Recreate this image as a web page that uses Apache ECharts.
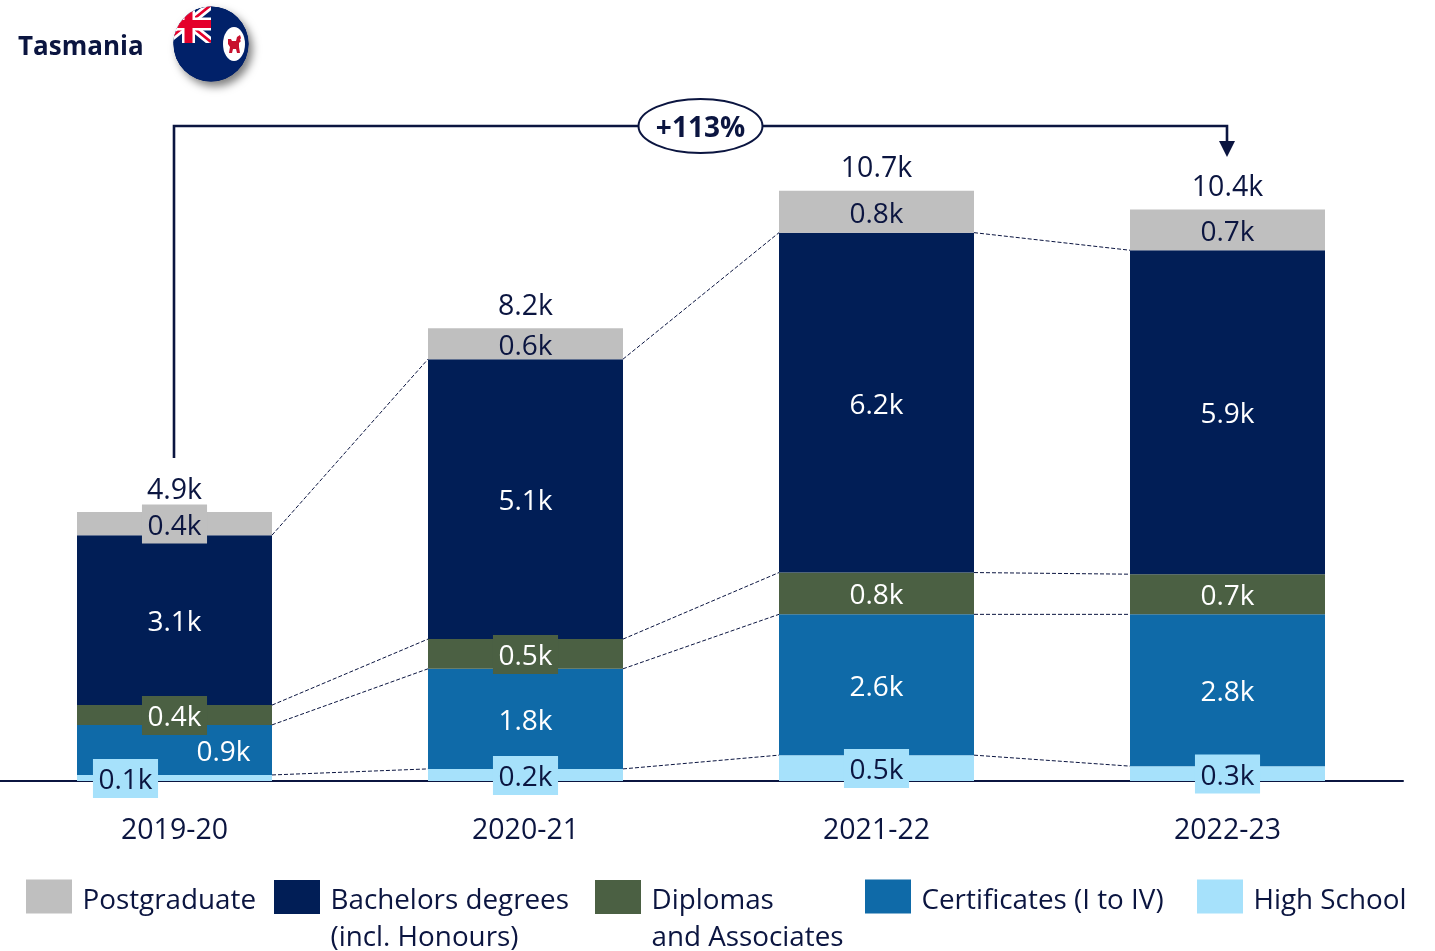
<!DOCTYPE html>
<html>
<head>
<meta charset="utf-8">
<title>Tasmania</title>
<style>
  html, body { margin: 0; background: #fff; }
  #chart { width: 1435px; height: 951px; }
</style>
<script src="https://cdn.jsdelivr.net/npm/echarts@6/dist/echarts.min.js"></script>
</head>
<body>
<div id="chart"></div>
<script>
const years = ['2019-20', '2020-21', '2021-22', '2022-23']

// thousands, bottom of the stack first
const highSchool = [0.11, 0.22, 0.47, 0.27]
const certificates = [0.91, 1.82, 2.56, 2.76]
const diplomas = [0.36, 0.54, 0.76, 0.73]
const bachelors = [3.09, 5.09, 6.18, 5.89]
const postgraduate = [0.42, 0.56, 0.76, 0.74]

const NAVY = '#0b1540'
const FONT = '"Open Sans", sans-serif'
const BAR_W = 195

const stacks = [
  { name: 'High School', data: highSchool, color: '#a6e1fb', text: NAVY, chips: [0, 1, 2, 3], legendLeft: 1197 },
  { name: 'Certificates (I to IV)', data: certificates, color: '#0f6aa8', text: '#fff', chips: [], legendLeft: 865 },
  { name: 'Diplomas\nand Associates', data: diplomas, color: '#4b6043', text: '#fff', chips: [0, 1], legendLeft: 595 },
  { name: 'Bachelors degrees\n(incl. Honours)', data: bachelors, color: '#011e56', text: '#fff', chips: [], legendLeft: 274 },
  { name: 'Postgraduate', data: postgraduate, color: '#bfbfbf', text: NAVY, chips: [0], legendLeft: 26 }
]

// label boxes are top aligned, so the y offset is about half the 39px box
const labelOffset = [0, -19]
// two labels sit off centre in the first column
const labelNudge = { 'High School': [-49, -19], 'Certificates (I to IV)': [49, -19] }

// running tops of each segment
const tops = []
years.forEach((y, col) => {
  let sum = 0
  tops[col] = stacks.map(s => (sum += s.data[col]))
})
const totals = tops.map(t => t[t.length - 1])

// one dashed link per segment top, except the very top of the stack
const links = []
stacks.slice(0, -1).forEach((s, k) => {
  for (let col = 0; col < years.length - 1; col++) {
    links.push([col, tops[col][k], tops[col + 1][k]])
  }
})

const barSeries = stacks.map(s => ({
  type: 'bar',
  name: s.name,
  stack: 'all',
  barWidth: BAR_W,
  itemStyle: { color: s.color },
  data: s.data.map((v, col) => ({
    value: v,
    label: {
      show: true,
      position: 'inside',
      verticalAlign: 'top',
      offset: col === 0 && labelNudge[s.name] ? labelNudge[s.name] : labelOffset,
      formatter: v.toFixed(1) + 'k',
      color: s.text,
      fontFamily: FONT,
      fontSize: 28,
      lineHeight: 28,
      padding: [8, 5.5, 3, 5.5],
      backgroundColor: s.chips.includes(col) ? s.color : 'transparent'
    }
  }))
}))

const flagSvg = `<svg xmlns="http://www.w3.org/2000/svg" width="76" height="76" viewBox="0 0 76 76">
<defs><clipPath id="c"><circle cx="38" cy="38" r="37.6"/></clipPath><clipPath id="k"><rect x="-8" y="0" width="46" height="37"/></clipPath></defs>
<g clip-path="url(#c)"><circle cx="38" cy="38" r="38" fill="#012169"/>
<g clip-path="url(#k)"><rect x="-8" y="0" width="46" height="37" fill="#012169"/>
<path d="M-8 -1L38 36M-8 36L38 -1" stroke="#fff" stroke-width="8"/>
<path d="M-8 -1L38 36M-8 36L38 -1" stroke="#e4002b" stroke-width="2.6"/>
<path d="M15.5 0V37M-8 18H38" stroke="#fff" stroke-width="13"/>
<path d="M15.5 0V37M-8 18H38" stroke="#e4002b" stroke-width="8"/></g>
<ellipse cx="61" cy="38" rx="11" ry="17" fill="#fff"/>
<path d="M55 33h3l1 2h4l1-4 3-2 1 3-1 2 1 1-2 2v4l1 6h-3l-1-4h-3l-1 4h-3l1-6-2-3z" fill="#c8102e"/></g></svg>`

const option = {
  animation: false,
  grid: { left: -1, top: 11, width: 1404, height: 770, outerBoundsMode: 'none' },
  xAxis: {
    type: 'category',
    data: years,
    axisLine: { lineStyle: { color: NAVY, width: 2 } },
    axisTick: { show: false },
    axisLabel: { color: NAVY, fontFamily: FONT, fontSize: 28.5, margin: 35 }
  },
  yAxis: { type: 'value', show: false, min: 0, max: 14 },
  legend: stacks.map(s => ({
    data: [s.name],
    left: s.legendLeft,
    top: s.name.includes('\n') ? 859.5 : 877.5,
    padding: 0,
    icon: 'rect',
    itemWidth: 46,
    itemHeight: 34,
    itemGap: 0,
    selectedMode: false,
    // legend text centres on the swatch, a spacer row sets the first line just below its middle
    formatter: name => {
      const rows = name.split('\n')
      return (rows.length > 1 ? '{tall| }' : '{short| }') + '\n' + rows.map(r => '{row|' + r + '}').join('\n')
    },
    textStyle: {
      padding: [0, 0, 0, 5.5],
      rich: {
        row: { color: NAVY, fontFamily: FONT, fontSize: 27.8, lineHeight: 37 },
        short: { fontSize: 1, lineHeight: 10 },
        tall: { fontSize: 1, lineHeight: 45 }
      }
    }
  })),
  series: [
    ...barSeries,
    {
      type: 'scatter',
      name: 'Total',
      symbolSize: 0,
      silent: true,
      itemStyle: { opacity: 1 },
      data: totals,
      label: {
        show: true,
        position: 'top',
        distance: 7,
        formatter: p => p.value.toFixed(1) + 'k',
        color: NAVY,
        fontFamily: FONT,
        fontSize: 28.5
      }
    },
    {
      type: 'custom',
      name: 'Links',
      silent: true,
      clip: false,
      z: 3,
      data: links,
      encode: { x: 0, y: [1, 2] },
      renderItem: (params, api) => {
        const a = api.coord([api.value(0), api.value(1)])
        const b = api.coord([api.value(0) + 1, api.value(2)])
        return {
          type: 'line',
          shape: { x1: a[0] + BAR_W / 2, y1: a[1], x2: b[0] - BAR_W / 2, y2: b[1] },
          style: { stroke: NAVY, lineWidth: 1, lineDash: [4, 2], fill: null }
        }
      }
    }
  ],
  graphic: [
    { type: 'text', left: 18, top: 35, style: { text: 'Tasmania', fill: NAVY, font: 'bold 26px ' + FONT } },
    {
      type: 'circle',
      shape: { cx: 211, cy: 44, r: 37.5 },
      style: { fill: '#012169', shadowBlur: 9, shadowOffsetX: 4, shadowOffsetY: 5, shadowColor: 'rgba(0,0,0,0.5)' }
    },
    {
      type: 'image',
      x: 173,
      y: 6,
      style: { image: 'data:image/svg+xml;charset=utf-8,' + encodeURIComponent(flagSvg), width: 76, height: 76 }
    },
    {
      type: 'polyline',
      shape: { points: [[174, 458], [174, 126], [1227, 126], [1227, 144]] },
      style: { stroke: NAVY, lineWidth: 2.6, fill: null }
    },
    {
      type: 'polygon',
      shape: { points: [[1219, 141], [1235, 141], [1227, 157]] },
      style: { fill: NAVY }
    },
    {
      type: 'ellipse',
      shape: { cx: 700.5, cy: 126, rx: 62, ry: 27 },
      style: { fill: '#fff', stroke: NAVY, lineWidth: 2 }
    },
    {
      type: 'text',
      x: 700.5,
      y: 129,
      style: { text: '+113%', fill: NAVY, font: 'bold 28px ' + FONT, align: 'center', verticalAlign: 'middle' }
    }
  ]
}

const chart = echarts.init(document.getElementById('chart'))
chart.setOption(option)
</script>
</body>
</html>
